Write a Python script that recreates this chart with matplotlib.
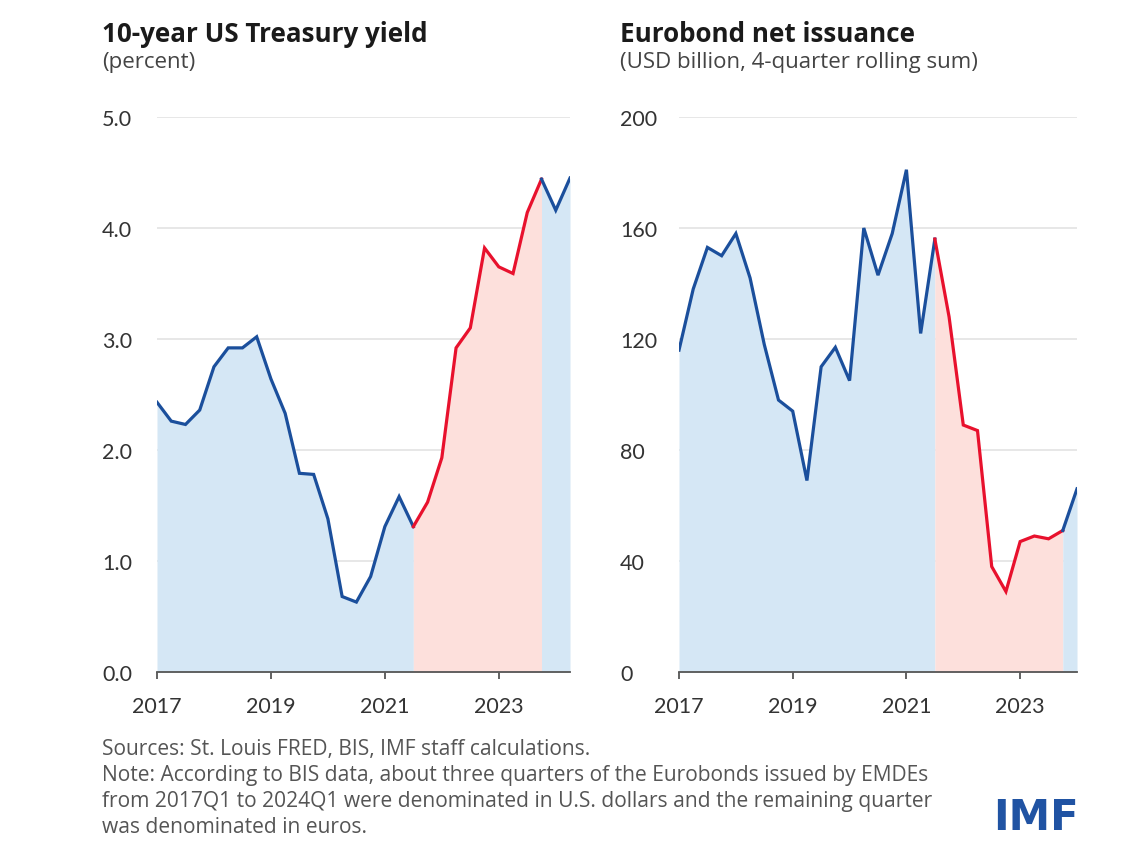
import matplotlib.pyplot as plt

plt.rcParams['font.family'] = ['Lato', 'DejaVu Sans']

# quarterly, 2017Q1 onwards
ust_yield = [2.43, 2.26, 2.23, 2.36, 2.75, 2.92, 2.92, 3.02, 2.64, 2.33,
             1.79, 1.78, 1.38, 0.68, 0.63, 0.86, 1.31, 1.58, 1.31, 1.53,
             1.93, 2.92, 3.10, 3.82, 3.65, 3.59, 4.14, 4.44, 4.16, 4.45]
eurobond = [116, 138, 153, 150, 158, 142, 118, 98, 94, 69,
            110, 117, 105, 160, 143, 158, 181, 122, 156, 128,
            89, 87, 38, 29, 47, 49, 48, 51, 66]
year_ticks = ["2017", "2019", "2021", "2023"]
hike_start = 18   # 2021Q3
hike_end = 27     # 2023Q4

BLUE = "#1b4f9c"
BLUE_FILL = "#d5e7f5"
RED = "#e8112d"
RED_FILL = "#fde0dc"

W, H = 1146, 854
fig = plt.figure(figsize=(W / 100, H / 100), dpi=100)


def px(x, y):
    return x / W, 1 - y / H


def draw_panel(rect, values, ymax, yticks, ylabels, label_pad):
    ax = fig.add_axes(rect)
    x = list(range(len(values)))
    segs = [(0, hike_start, BLUE, BLUE_FILL),
            (hike_start, hike_end, RED, RED_FILL),
            (hike_end, len(values) - 1, BLUE, BLUE_FILL)]
    for a, b, lc, fc in segs:
        xs = x[a:b + 1]
        ys = values[a:b + 1]
        ax.fill_between(xs, 0, ys, color=fc, lw=0, zorder=1)
        ax.plot(xs, ys, color=lc, lw=2.3, solid_joinstyle="miter", zorder=3)

    ax.set_xlim(0, len(values) - 1)
    ax.set_ylim(0, ymax)
    ax.set_yticks(yticks)
    ax.set_yticklabels(ylabels, ha="left")
    ax.set_xticks([0, 8, 16, 24])
    ax.set_xticklabels(year_ticks)
    ax.grid(axis="y", color="#e3e3e3", lw=1.2, zorder=0)
    ax.set_axisbelow(True)
    for s in ["top", "right", "left"]:
        ax.spines[s].set_visible(False)
    ax.spines["bottom"].set_color("#555555")
    ax.spines["bottom"].set_linewidth(1.3)
    ax.spines["bottom"].set_zorder(4)
    ax.tick_params(axis="y", length=0, pad=label_pad, labelsize=15.5, labelcolor="#333333")
    ax.tick_params(axis="x", length=5, width=1.3, color="#555555", direction="out",
                   pad=12, labelsize=15.5, labelcolor="#333333")
    return ax


# left panel
l0, l1 = 157, 570
draw_panel([l0 / W, 1 - 673 / H, (l1 - l0) / W, (673 - 118) / H],
           ust_yield, 5, [0, 1, 2, 3, 4, 5],
           ["0.0", "1.0", "2.0", "3.0", "4.0", "5.0"], (l0 - 102) * 0.72)

# right panel
r0, r1 = 679, 1077
draw_panel([r0 / W, 1 - 673 / H, (r1 - r0) / W, (673 - 118) / H],
           eurobond, 200, [0, 40, 80, 120, 160, 200],
           ["0", "40", "80", "120", "160", "200"], (r0 - 620) * 0.72)

# titles
fig.text(*px(102, 42), "10-year US Treasury yield", fontsize=18.7, fontweight="bold",
         family="Open Sans", color="#1a1a1a", va="baseline")
fig.text(*px(102, 68), "(percent)", fontsize=16, family="Open Sans",
         color="#444444", va="baseline")
fig.text(*px(620, 42), "Eurobond net issuance", fontsize=18.7, fontweight="bold",
         family="Open Sans", color="#1a1a1a", va="baseline")
fig.text(*px(620, 68), "(USD billion, 4-quarter rolling sum)", fontsize=16,
         family="Open Sans", color="#444444", va="baseline")

# footnotes
notes = ["Sources: St. Louis FRED, BIS, IMF staff calculations.",
         "Note: According to BIS data, about three quarters of the Eurobonds issued by EMDEs",
         "from 2017Q1 to 2024Q1 were denominated in U.S. dollars and the remaining quarter",
         "was denominated in euros."]
for i, line in enumerate(notes):
    fig.text(*px(102, 755 + 26 * i), line, fontsize=15.1, family="Open Sans",
             color="#555555", va="baseline")

fig.text(*px(1079, 830), "IMF", fontsize=30, fontweight="bold", family="DejaVu Sans",
         color="#2053a3", ha="right", va="baseline")

fig.savefig("out.png", dpi=100)
